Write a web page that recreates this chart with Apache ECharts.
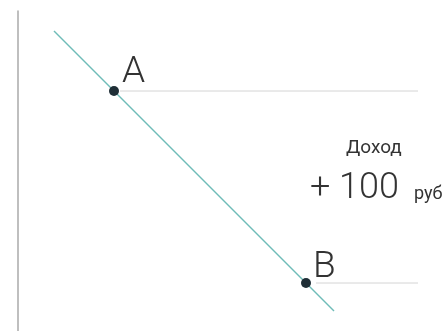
<!DOCTYPE html>
<html>
<head>
<meta charset="utf-8">
<script src="https://cdn.jsdelivr.net/npm/echarts@6/dist/echarts.min.js"></script>
<style>
    html, body { margin: 0; padding: 0; background: #fff; }
    #chart { width: 446px; height: 331px; }
</style>
</head>
<body>
<div id="chart"></div>
<script>
// demand line and the two marked points on it
var demand_line = [[9, 75], [79, 5]];
var point_names = ["A", "B"];
var point_x = [24, 72];
var point_y = [60, 12];
// grey guide lines run from each point to the right edge
var guide_start = [25.5, 74.5];
var guide_end = 100;
var income_title = "Доход";
var income_value = "+ 100";
var income_unit = "руб";

function load_income_chart() {
    var label_pos = [[13, -32], [12, -29]];
    var points = [], guides = [];
    for (var i = 0; i < point_names.length; i++) {
        points.push({
            value: [point_x[i], point_y[i], point_names[i]],
            label: {position: label_pos[i]}
        });
        guides.push({
            type: "line",
            symbol: "none",
            silent: true,
            lineStyle: {color: "#d4d4d4", width: 1},
            data: [[guide_start[i], point_y[i]], [guide_end, point_y[i]]]
        });
    }
    var option = {
        animation: false,
        grid: {left: 18, right: 28, top: 11, bottom: 0},
        xAxis: {
            type: "value", min: 0, max: 100,
            show: false
        },
        yAxis: {
            type: "value", min: 0, max: 80,
            axisLine: {show: true, lineStyle: {color: "#aaaaaa", width: 1.5}},
            axisTick: {show: false},
            axisLabel: {show: false},
            splitLine: {show: false}
        },
        graphic: [
            {
                type: "text", left: 346, top: 139,
                style: {text: income_title, font: "400 19px Roboto", fill: "#333"}
            },
            {
                type: "text", left: 310, top: 171,
                style: {text: income_value, font: "300 36px Roboto", fill: "#333"}
            },
            {
                type: "text", left: 414, top: 185,
                style: {text: income_unit, font: "400 18px Roboto", fill: "#333"}
            }
        ],
        series: guides.concat([
            {
                type: "line",
                symbol: "none",
                silent: true,
                z: 2,
                lineStyle: {color: "#6fbcb8", width: 1.5},
                data: demand_line
            },
            {
                type: "scatter",
                symbolSize: 10,
                z: 5,
                itemStyle: {color: "#1f2e36", opacity: 1, borderWidth: 0},
                label: {
                    show: true,
                    formatter: function (p) { return p.value[2]; },
                    fontFamily: "Roboto",
                    fontWeight: 300,
                    fontSize: 37,
                    color: "#333"
                },
                data: points
            }
        ])
    };
    var chart = echarts.init(document.getElementById("chart"));
    chart.setOption(option);
}

load_income_chart();
</script>
</body>
</html>
